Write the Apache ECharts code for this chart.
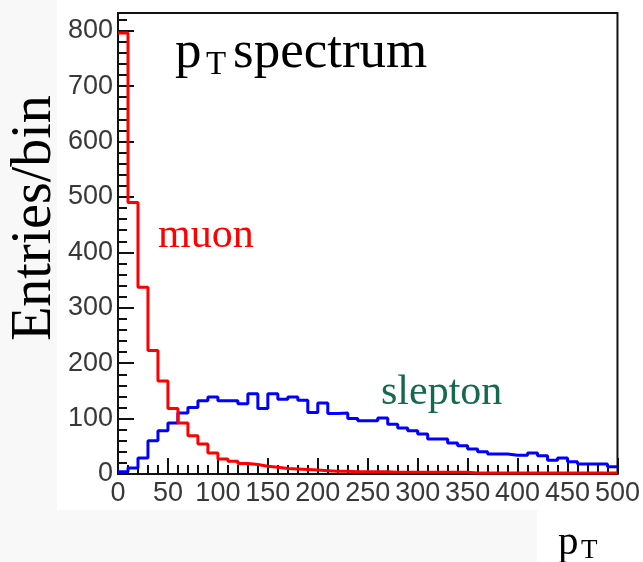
<!DOCTYPE html>
<html>
<head>
<meta charset="utf-8">
<script src="https://cdn.jsdelivr.net/npm/echarts@6/dist/echarts.min.js"></script>
<style>
  html, body { margin: 0; padding: 0; background: #ffffff; }
  #chart { width: 643px; height: 562px; }
</style>
</head>
<body>
<div id="chart"></div>
<script>
// Bin edges of the pT histograms (GeV), 10 GeV per bin
const binEdges = [0, 10, 20, 30, 40, 50, 60, 70, 80, 90,
  100, 110, 120, 130, 140, 150, 160, 170, 180, 190,
  200, 210, 220, 230, 240, 250, 260, 270, 280, 290,
  300, 310, 320, 330, 340, 350, 360, 370, 380, 390,
  400, 410, 420, 430, 440, 450, 460, 470, 480, 490, 500];

// Entries per bin for the muon spectrum
const muonCounts = [796, 490, 337, 223, 168, 118, 92, 69, 54, 38,
  27, 23, 19, 17, 14, 12, 10, 9, 8, 7,
  6, 5, 5, 4, 4, 4, 4, 3, 3, 3,
  3, 3, 3, 3, 3, 2, 2, 2, 2, 2,
  2, 2, 2, 2, 2, 2, 2, 2, 2, 2];

// Entries per bin for the slepton spectrum
const sleptonCounts = [4, 11, 29, 60, 78, 92, 110, 120, 132, 139,
  132, 132, 127, 145, 118, 145, 135, 139, 133, 111,
  128, 109, 110, 100, 96, 96, 101, 90, 83, 78,
  72, 63, 63, 56, 51, 45, 40, 36, 36, 34,
  34, 38, 33, 25, 29, 22, 18, 18, 18, 13];

const xTickLabels = ['0', '50', '100', '150', '200', '250', '300', '350', '400', '450', '500'];
const yTickLabels = ['0', '100', '200', '300', '400', '500', '600', '700', '800'];

// Step outline: each bin value starts at its left edge, the last one is held to the right edge
function outline(counts) {
  const pts = counts.map((c, i) => [binEdges[i], c]);
  pts.push([binEdges[binEdges.length - 1], counts[counts.length - 1]]);
  return pts;
}

const SERIF = '"Liberation Serif", "DejaVu Serif", serif';
const SANS = '"Liberation Sans", Arial, sans-serif';
const chart = echarts.init(document.getElementById('chart'), null, { renderer: 'canvas' });

chart.setOption({
  animation: false,
  backgroundColor: '#ffffff',
  grid: {
    left: 118, right: 25, top: 13, bottom: 88,
    show: true, borderColor: '#111111', borderWidth: 2, backgroundColor: '#ffffff'
  },
  xAxis: {
    type: 'value', min: 0, max: 500, interval: 50,
    axisLine: { show: true, onZero: false, lineStyle: { color: '#111111', width: 2 } },
    axisTick: { show: true, inside: true, length: 16, lineStyle: { color: '#111111', width: 2 } },
    minorTick: { show: true, splitNumber: 5, length: 9, lineStyle: { color: '#111111', width: 2 } },
    splitLine: { show: false },
    axisLabel: {
      margin: 6, color: '#383838', fontSize: 27, fontFamily: SANS,
      formatter: v => xTickLabels[Math.round(v / 50)] ?? ''
    }
  },
  yAxis: [{
    type: 'value', min: 0, max: 832, interval: 100,
    axisLine: { show: true, onZero: false, lineStyle: { color: '#111111', width: 2 } },
    axisTick: { show: true, inside: true, length: 16, lineStyle: { color: '#111111', width: 2 } },
    splitLine: { show: false },
    axisLabel: {
      margin: 5, color: '#383838', fontSize: 27, fontFamily: SANS,
      showMaxLabel: false,
      formatter: v => (v % 100 === 0 ? (yTickLabels[v / 100] ?? '') : '')
    }
  }, {
    // secondary ticks every 20 entries
    type: 'value', min: 0, max: 832, interval: 20, position: 'left',
    axisLine: { show: false },
    axisTick: { show: true, inside: true, length: 9, lineStyle: { color: '#111111', width: 2 } },
    axisLabel: { show: false },
    splitLine: { show: false }
  }],
  series: [{
    name: 'slepton', type: 'line', step: 'end', symbol: 'none', yAxisIndex: 0,
    data: outline(sleptonCounts),
    lineStyle: { color: '#0000ff', width: 3 }, z: 3
  }, {
    name: 'muon', type: 'line', step: 'end', symbol: 'none', yAxisIndex: 0,
    data: outline(muonCounts),
    lineStyle: { color: '#ff0000', width: 3 }, z: 4
  }],
  graphic: [
    { type: 'rect', z: -10, shape: { x: 0, y: 0, width: 57, height: 562 }, style: { fill: '#f8f8f8' } },
    { type: 'rect', z: -10, shape: { x: 0, y: 510, width: 537, height: 52 }, style: { fill: '#f8f8f8' } },
    { type: 'text', x: 35, y: 218, rotation: Math.PI / 2,
      style: { text: 'Entries/bin', font: '56px ' + SERIF, fill: '#000', align: 'center', verticalAlign: 'middle' } },
    { type: 'text', x: 175, y: 53, style: { text: 'p', font: '53px ' + SERIF, fill: '#000', align: 'left', verticalAlign: 'middle' } },
    { type: 'text', x: 206, y: 65, style: { text: 'T', font: '33px ' + SERIF, fill: '#000', align: 'left', verticalAlign: 'middle' } },
    { type: 'text', x: 233, y: 53, style: { text: 'spectrum', font: '53px ' + SERIF, fill: '#000', align: 'left', verticalAlign: 'middle' } },
    { type: 'text', x: 158, y: 236, style: { text: 'muon', font: '42px ' + SERIF, fill: '#ff0000', align: 'left', verticalAlign: 'middle' } },
    { type: 'text', x: 381, y: 393, style: { text: 'slepton', font: '42px ' + SERIF, fill: '#14694f', align: 'left', verticalAlign: 'middle' } },
    { type: 'text', x: 558, y: 543, style: { text: 'p', font: '41px ' + SERIF, fill: '#000', align: 'left', verticalAlign: 'middle' } },
    { type: 'text', x: 581, y: 551, style: { text: 'T', font: '27px ' + SERIF, fill: '#000', align: 'left', verticalAlign: 'middle' } }
  ]
});
</script>
</body>
</html>
